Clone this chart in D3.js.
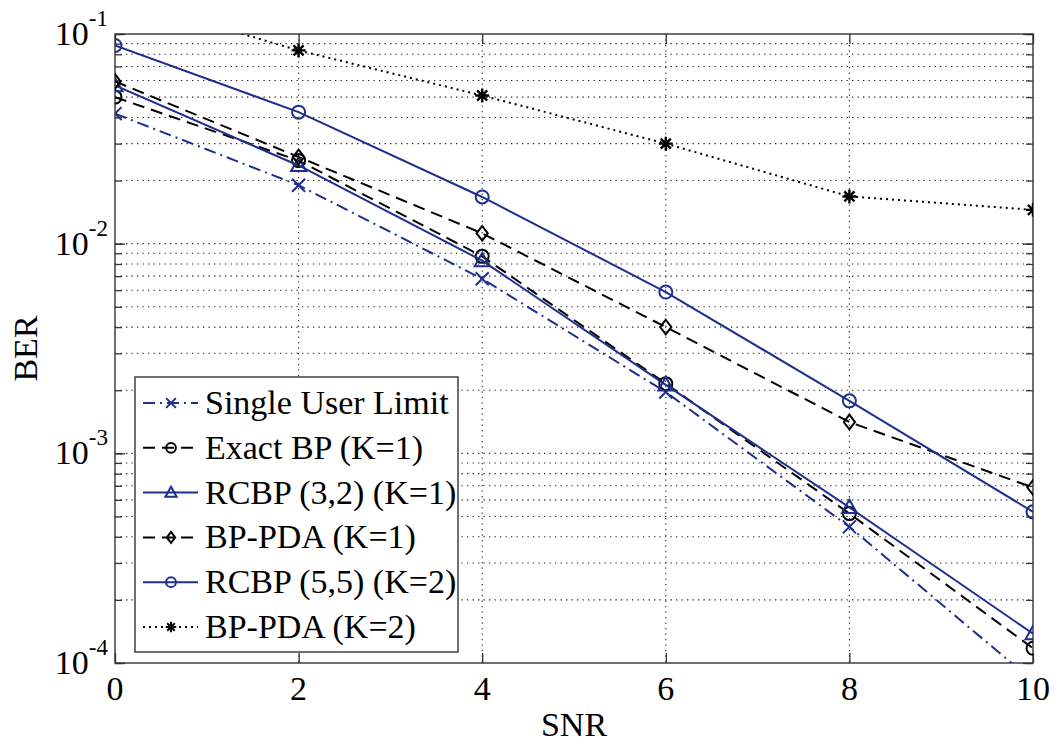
<!DOCTYPE html>
<html>
<head>
<meta charset="utf-8">
<script src="https://cdn.jsdelivr.net/npm/d3@7"></script>
<style>
  body { margin: 0; background: #fff; }
  text { font-family: "Liberation Serif", "Times New Roman", serif; fill: #000; }
</style>
</head>
<body>
<div id="chart"></div>
<script>
// Data
var snr = [0, 2, 4, 6, 8, 10];
var singleUser = [0.0417, 0.0190, 0.00680, 0.00196, 0.000446, 0.000082];
var exactBP    = [0.0500, 0.0249, 0.00870, 0.00215, 0.000516, 0.0001175];
var rcbp32     = [0.0568, 0.0236, 0.00830, 0.00212, 0.000552, 0.000138];
var bppda1     = [0.0594, 0.0259, 0.01120, 0.00400, 0.00141, 0.000687];
var rcbp55     = [0.0882, 0.0424, 0.01670, 0.00588, 0.00178, 0.000526];
var bppda2     = [0.151, 0.0835, 0.0509, 0.0300, 0.0168, 0.0145];

var xTicks = [0, 2, 4, 6, 8, 10];
var yTickExp = [-1, -2, -3, -4];
var legendLabels = ["Single User Limit", "Exact BP (K=1)", "RCBP (3,2) (K=1)",
                    "BP-PDA (K=1)", "RCBP (5,5) (K=2)", "BP-PDA (K=2)"];

var blue = "#1f2f8c";
var series = [
  {values: singleUser, color: blue, dash: "12,5,2,5", marker: "x"},
  {values: exactBP, color: "#000", dash: "12,7", marker: "o"},
  {values: rcbp32, color: blue, dash: null, marker: "^"},
  {values: bppda1, color: "#000", dash: "12,7", marker: "d"},
  {values: rcbp55, color: blue, dash: null, marker: "o"},
  {values: bppda2, color: "#000", dash: "2,4", marker: "*"}
];

var W = 1057, H = 742;
var margin = {top: 34, right: 24, bottom: 79, left: 115};
var width = W - margin.left - margin.right,
    height = H - margin.top - margin.bottom;

var svg = d3.select("#chart").append("svg")
    .attr("width", W).attr("height", H);

var x = d3.scaleLinear().domain([0, 10]).range([0, width]);
var y = d3.scaleLog().domain([1e-4, 1e-1]).range([height, 0]);

var g = svg.append("g").attr("transform", `translate(${margin.left},${margin.top})`);

svg.append("defs").append("clipPath").attr("id", "plotclip")
  .append("rect").attr("width", width).attr("height", height);

// grid values
var minors = [];
[-4, -3, -2].forEach(function(e) {
  for (var k = 1; k <= 9; k++) minors.push(k * Math.pow(10, e));
});
minors.push(1e-1);
var majors = yTickExp.map(function(e) { return Math.pow(10, e); });

// dotted grid
var grid = g.append("g").attr("stroke", "#222").attr("stroke-width", 1.1)
  .attr("stroke-dasharray", "1.3,4.2");
minors.filter(function(v) { return v > 1.01e-4 && v < 0.99e-1; }).forEach(function(v) {
  grid.append("line").attr("x1", 0).attr("x2", width)
    .attr("y1", y(v)).attr("y2", y(v));
});
xTicks.filter(function(v) { return v > 0 && v < 10; }).forEach(function(v) {
  grid.append("line").attr("x1", x(v)).attr("x2", x(v))
    .attr("y1", 0).attr("y2", height);
});

// ticks (inward, on all four sides)
function tickAxis(axis, transform) {
  var a = g.append("g").attr("transform", transform).call(axis);
  a.select(".domain").remove();
  a.selectAll("line").attr("stroke", "#333").attr("stroke-width", 1.3);
  a.selectAll("text").remove();
}
tickAxis(d3.axisBottom(x).tickValues(xTicks).tickSize(-10), `translate(0,${height})`);
tickAxis(d3.axisTop(x).tickValues(xTicks).tickSize(-10), "translate(0,0)");
tickAxis(d3.axisLeft(y).tickValues(minors).tickSize(-7), "translate(0,0)");
tickAxis(d3.axisRight(y).tickValues(minors).tickSize(-7), `translate(${width},0)`);
tickAxis(d3.axisLeft(y).tickValues(majors).tickSize(-10), "translate(0,0)");
tickAxis(d3.axisRight(y).tickValues(majors).tickSize(-10), `translate(${width},0)`);

// frame
g.append("rect").attr("width", width).attr("height", height)
  .attr("fill", "none").attr("stroke", "#333").attr("stroke-width", 1.4);

// marker shapes
function markerPath(type, s) {
  var p = d3.path();
  if (type === "o") {
    p.moveTo(s, 0); p.arc(0, 0, s, 0, 2 * Math.PI);
  } else if (type === "x") {
    p.moveTo(-s, -s); p.lineTo(s, s); p.moveTo(-s, s); p.lineTo(s, -s);
  } else if (type === "^") {
    p.moveTo(0, -s * 1.05); p.lineTo(s, s * 0.75); p.lineTo(-s, s * 0.75); p.closePath();
  } else if (type === "d") {
    p.moveTo(0, -s * 1.05); p.lineTo(s * 0.8, 0); p.lineTo(0, s * 1.05); p.lineTo(-s * 0.8, 0); p.closePath();
  } else if (type === "*") {
    var d = s * 0.72;
    p.moveTo(-s, 0); p.lineTo(s, 0); p.moveTo(0, -s); p.lineTo(0, s);
    p.moveTo(-d, -d); p.lineTo(d, d); p.moveTo(-d, d); p.lineTo(d, -d);
  }
  return p.toString();
}
var markerSize = {"o": 6.5, "x": 6.5, "^": 7.5, "d": 7, "*": 7};

var line = d3.line()
  .x(function(d, i) { return x(snr[i]); })
  .y(function(d) { return y(d); });

var plot = g.append("g").attr("clip-path", "url(#plotclip)");
series.forEach(function(s) {
  plot.append("path")
    .attr("d", line(s.values))
    .attr("fill", "none")
    .attr("stroke", s.color)
    .attr("stroke-width", 2)
    .attr("stroke-dasharray", s.dash);
  plot.selectAll(null).data(s.values).enter().append("path")
    .attr("transform", function(d, i) { return `translate(${x(snr[i])},${y(d)})`; })
    .attr("d", markerPath(s.marker, markerSize[s.marker]))
    .attr("fill", "none")
    .attr("stroke", s.color)
    .attr("stroke-width", s.marker === "*" ? 2.4 : 2);
});

// x tick labels
g.append("g").selectAll("text").data(xTicks).enter().append("text")
  .attr("x", function(d) { return x(d); })
  .attr("y", height + 37)
  .attr("text-anchor", "middle")
  .style("font-size", "34px")
  .text(function(d) { return d; });

// y tick labels: 10^e
var yl = g.append("g").selectAll("text").data(yTickExp).enter().append("text")
  .attr("x", -7)
  .attr("y", function(d) { return y(Math.pow(10, d)) + 11; })
  .attr("text-anchor", "end")
  .style("font-size", "34px");
yl.append("tspan").text("10");
yl.append("tspan").attr("dy", -19).style("font-size", "23px")
  .text(function(d) { return "-" + Math.abs(d); });

// axis titles
svg.append("text")
  .attr("x", margin.left + width / 2).attr("y", 736)
  .attr("text-anchor", "middle").style("font-size", "34px")
  .text("SNR");
svg.append("text")
  .attr("transform", `translate(37,${margin.top + height / 2}) rotate(-90)`)
  .attr("text-anchor", "middle").style("font-size", "34px")
  .text("BER");

// legend
var lg = svg.append("g").attr("transform", "translate(135,377)");
lg.append("rect").attr("width", 323).attr("height", 275)
  .attr("fill", "#fff").attr("stroke", "#333").attr("stroke-width", 1.4);
series.forEach(function(s, i) {
  var ly = 26 + i * 44.8;
  var row = lg.append("g").attr("transform", `translate(0,${ly})`);
  row.append("line").attr("x1", 8).attr("x2", 63)
    .attr("stroke", s.color).attr("stroke-width", 2)
    .attr("stroke-dasharray", s.dash);
  row.append("path").attr("transform", "translate(36,0)")
    .attr("d", markerPath(s.marker, markerSize[s.marker] * 0.75))
    .attr("fill", "none").attr("stroke", s.color).attr("stroke-width", 2);
  row.append("text").attr("x", 70).attr("y", 11)
    .style("font-size", "34px")
    .text(legendLabels[i]);
});
</script>
</body>
</html>
